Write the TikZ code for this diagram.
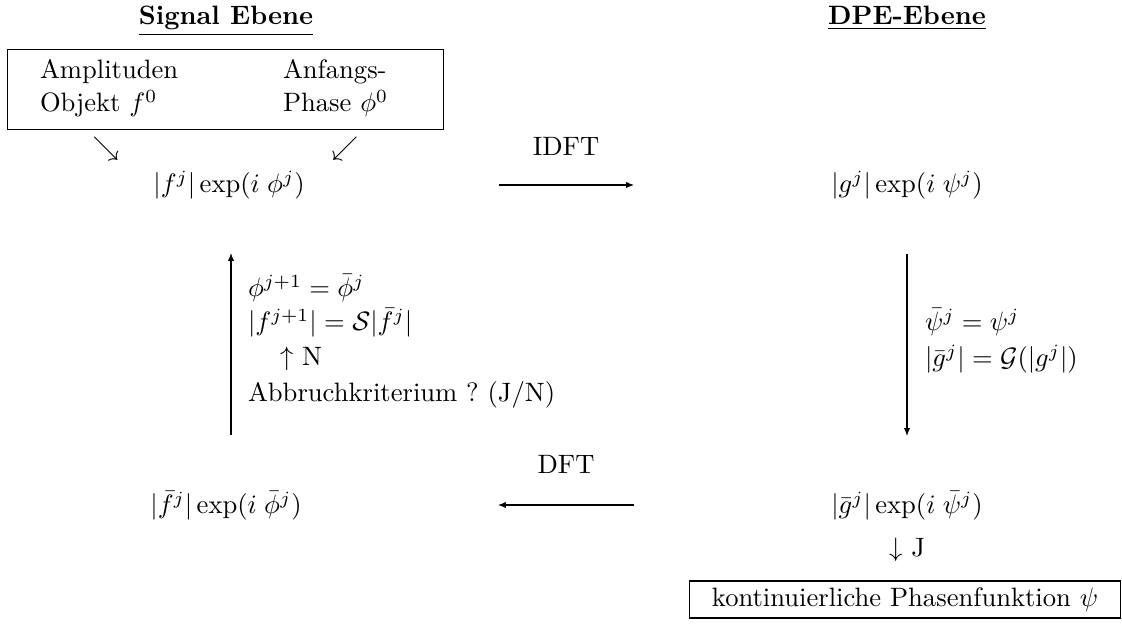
\documentclass[tikz,border=0pt]{standalone}
\usetikzlibrary{arrows.meta}
\begin{document}
\begin{tikzpicture}[x=0.376pt,y=-0.376pt,
  every node/.style={inner sep=0pt, outer sep=0pt},
  arr/.style={-{Latex[length=3pt,width=2.4pt]}, line width=0.4pt},
  frame/.style={draw, line width=0.4pt}]
\useasboundingbox (0,0) rectangle (1122,629);
% titles
\node[anchor=base] (t1) at (226,25) {\underline{\textbf{Signal Ebene}}};
\node[anchor=base] (t2) at (907,25) {\underline{\textbf{DPE-Ebene}}};
% top box
\node[frame, minimum width=163.6pt, minimum height=29.9pt] (topbox) at (225.5,89.5) {};
\node[anchor=base west] (amp) at (40,79) {Amplituden};
\node[anchor=base west] (obj) at (40,112) {Objekt $f^0$};
\node[anchor=base west] (anf) at (283,79) {Anfangs-};
\node[anchor=base west] (pha) at (283,112) {Phase $\phi^0$};
\node (se) at (106,149) {$\searrow$};
\node (sw) at (345,149) {$\swarrow$};
% formulas
\node (f1) at (229,185) {$|f^j|\exp(i\;\phi^j)$};
\node (g1) at (907,185) {$|g^j|\exp(i\;\psi^j)$};
\node (f2) at (226,506) {$|\bar f^j|\exp(i\;\bar\phi^j)$};
\node (g2) at (907,506) {$|\bar g^j|\exp(i\;\bar\psi^j)$};
% IDFT
\node (idft) at (566,146) {IDFT};
\coordinate (i1) at (499,185);
\coordinate (i2) at (634,185);
\draw[arr] (i1) -- (i2);
% DFT
\node (dft) at (566,464) {DFT};
\coordinate (d1) at (634,505);
\coordinate (d2) at (498,505);
\draw[arr] (d1) -- (d2);
% right vertical
\coordinate (r1) at (907,254);
\coordinate (r2) at (907,436);
\draw[arr] (r1) -- (r2);
\node[anchor=base west] (rl1) at (925,331) {$\bar\psi^j=\psi^j$};
\node[anchor=base west] (rl2) at (925,367) {$|\bar g^j|=\mathcal{G}(|g^j|)$};
% left vertical
\coordinate (l1) at (231,435);
\coordinate (l2) at (231,253);
\draw[arr] (l1) -- (l2);
\node[anchor=base west] (ll1) at (248,297) {$\phi^{j+1}=\bar\phi^j$};
\node[anchor=base west] (ll2) at (248,331) {$|f^{j+1}|=\mathcal{S}|\bar f^j|$};
\node[anchor=base west] (ll3) at (280,366) {$\uparrow$ N};
\node[anchor=base west] (ll4) at (248,402) {Abbruchkriterium ?\ (J/N)};
% bottom
\node (dj) at (907,550) {$\downarrow$ J};
\node[frame, minimum width=162pt, minimum height=13.9pt] (botbox) at (905,599.5) {};
\node (kont) at (905,600) {kontinuierliche Phasenfunktion $\psi$};
\end{tikzpicture}
\end{document}
